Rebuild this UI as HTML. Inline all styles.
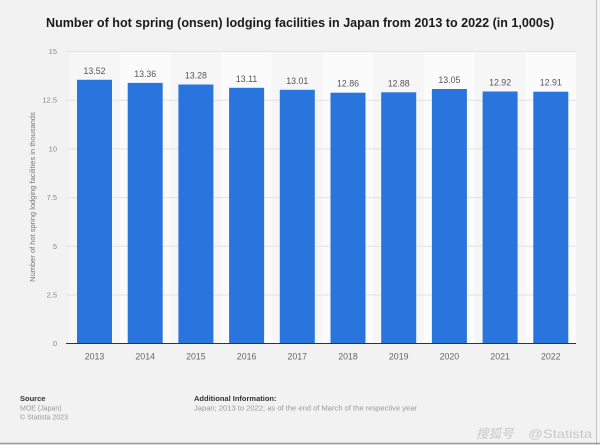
<!DOCTYPE html>
<html><head><meta charset="utf-8"><style>
html,body{margin:0;padding:0;background:#f2f2f2;}
svg{display:block;}
</style></head><body>
<svg width="600" height="445" viewBox="0 0 600 445" xmlns="http://www.w3.org/2000/svg" font-family="'Liberation Sans', Arial, sans-serif">
<rect x="0" y="0" width="600" height="445" fill="#f2f2f2"/>
<line x1="596.5" y1="0" x2="596.5" y2="445" stroke="#c4c4c4" stroke-width="1"/>
<line x1="0" y1="443.5" x2="600" y2="443.5" stroke="#9a9a9a" stroke-width="1.5"/>
<text x="46" y="27" font-size="12.5" font-weight="bold" fill="#1a1a1a" textLength="508" lengthAdjust="spacingAndGlyphs">Number of hot spring (onsen) lodging facilities in Japan from 2013 to 2022 (in 1,000s)</text>
<g>
<rect x="69" y="51" width="50.7" height="292.3" fill="#f6f6f6"/>
<rect x="119.7" y="51" width="50.7" height="292.3" fill="#fbfbfb"/>
<rect x="170.4" y="51" width="50.7" height="292.3" fill="#f6f6f6"/>
<rect x="221.1" y="51" width="50.7" height="292.3" fill="#fbfbfb"/>
<rect x="271.8" y="51" width="50.7" height="292.3" fill="#f6f6f6"/>
<rect x="322.5" y="51" width="50.7" height="292.3" fill="#fbfbfb"/>
<rect x="373.2" y="51" width="50.7" height="292.3" fill="#f6f6f6"/>
<rect x="423.9" y="51" width="50.7" height="292.3" fill="#fbfbfb"/>
<rect x="474.6" y="51" width="50.7" height="292.3" fill="#f6f6f6"/>
<rect x="525.3" y="51" width="50.7" height="292.3" fill="#fbfbfb"/>
</g>
<g stroke="#e2e2e2" stroke-width="1">
<line x1="66" y1="51.5" x2="576" y2="51.5"/>
<line x1="66" y1="100.2" x2="576" y2="100.2"/>
<line x1="66" y1="148.9" x2="576" y2="148.9"/>
<line x1="66" y1="197.6" x2="576" y2="197.6"/>
<line x1="66" y1="246.3" x2="576" y2="246.3"/>
<line x1="66" y1="295.0" x2="576" y2="295.0"/>
</g>
<g font-size="7.5" fill="#8a8a8a" text-anchor="end">
<text x="57" y="54">15</text>
<text x="57" y="102.7">12.5</text>
<text x="57" y="151.4">10</text>
<text x="57" y="200.1">7.5</text>
<text x="57" y="248.8">5</text>
<text x="57" y="297.5">2.5</text>
<text x="57" y="346">0</text>
</g>
<text transform="translate(35,197) rotate(-90)" font-size="7.5" fill="#777" text-anchor="middle">Number of hot spring lodging facilities in thousands</text>
<g fill="#2a75dd">
<rect x="77" y="79.8" width="35" height="263.5"/>
<rect x="127.7" y="82.9" width="35" height="260.4"/>
<rect x="178.4" y="84.5" width="35" height="258.8"/>
<rect x="229.1" y="87.8" width="35" height="255.5"/>
<rect x="279.8" y="89.8" width="35" height="253.5"/>
<rect x="330.5" y="92.7" width="35" height="250.6"/>
<rect x="381.2" y="92.3" width="35" height="251.0"/>
<rect x="431.9" y="89.0" width="35" height="254.3"/>
<rect x="482.6" y="91.5" width="35" height="251.8"/>
<rect x="533.3" y="91.7" width="35" height="251.6"/>
</g>
<line x1="66" y1="343.5" x2="576" y2="343.5" stroke="#333" stroke-width="1"/>
<g font-size="8.8" fill="#555" text-anchor="middle">
<text x="94.5" y="73.8">13.52</text>
<text x="145.2" y="76.9">13.36</text>
<text x="195.9" y="78.5">13.28</text>
<text x="246.6" y="81.8">13.11</text>
<text x="297.3" y="83.8">13.01</text>
<text x="348" y="86.7">12.86</text>
<text x="398.7" y="86.3">12.88</text>
<text x="449.4" y="83.0">13.05</text>
<text x="500.1" y="85.5">12.92</text>
<text x="550.8" y="85.7">12.91</text>
</g>
<g font-size="8.8" fill="#666" text-anchor="middle">
<text x="94.5" y="359.5">2013</text>
<text x="145.2" y="359.5">2014</text>
<text x="195.9" y="359.5">2015</text>
<text x="246.6" y="359.5">2016</text>
<text x="297.3" y="359.5">2017</text>
<text x="348" y="359.5">2018</text>
<text x="398.7" y="359.5">2019</text>
<text x="449.4" y="359.5">2020</text>
<text x="500.1" y="359.5">2021</text>
<text x="550.8" y="359.5">2022</text>
</g>
<text x="20" y="401" font-size="7.5" font-weight="bold" fill="#333">Source</text>
<text x="20" y="410.5" font-size="7" fill="#999">MOE (Japan)</text>
<text x="20" y="419.5" font-size="7" fill="#999">© Statista 2023</text>
<text x="194" y="401" font-size="7.5" font-weight="bold" fill="#333">Additional Information:</text>
<text x="194" y="410.5" font-size="7" fill="#999" textLength="223" lengthAdjust="spacingAndGlyphs">Japan; 2013 to 2022; as of the end of March of the respective year</text>
<text x="476" y="438" font-size="12.5" fill="#c8c8c8" font-style="italic" font-family="'Liberation Sans','Noto Sans CJK SC',sans-serif">搜狐号</text>
<text x="528" y="438" font-size="12" fill="#c8c8c8" font-family="'Liberation Sans',sans-serif" textLength="64" lengthAdjust="spacingAndGlyphs">@Statista</text>
</svg>
</body></html>
